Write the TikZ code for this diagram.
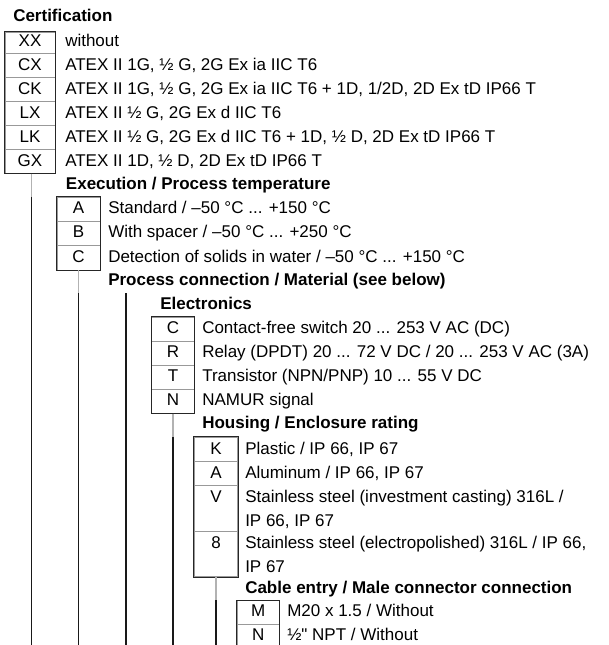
\documentclass[tikz,border=0pt]{standalone}
\usepackage{fontspec}
\setmainfont{Liberation Sans}[Ligatures=TeXOff]
\newcommand\cellrow[7]{%
  \pgfmathsetlengthmacro\cellht{(#5-#4)*0.75pt}%
  \pgfmathsetlengthmacro\celldp{(#6-#5)*0.75pt}%
  \node[cell, minimum width=#3*0.75pt, text height=\cellht, text depth=\celldp, anchor=base] (#1) at (#2,#5) {#7};}
\tikzset{
  every node/.style={font=\fontsize{12.75pt}{18pt}\selectfont, inner sep=0pt, text=black},
  cell/.style={draw=black!40, line width=0.6pt},
  frame/.style={draw=black!85, line width=0.7pt},
  desc/.style={anchor=base west},
  head/.style={anchor=base west, font=\fontsize{12.75pt}{18pt}\selectfont\bfseries},
  feed/.style={draw=black!30, line width=0.8pt},
  trunk/.style={draw=black!90, line width=1pt},
}
\begin{document}
\begin{tikzpicture}[x=0.75pt,y=-0.75pt]
\useasboundingbox (0,0) rectangle (608,645);
\clip (0,0) rectangle (608,645);
\coordinate (bot) at (0,645);
% Certification
\node[head] (hcert) at (13,21.7) {Certification};
\cellrow{cXX}{30}{50}{32.3}{46.7}{53.3}{XX}
\cellrow{cCX}{30}{50}{53.3}{70.7}{77.3}{CX}
\cellrow{cCK}{30}{50}{77.3}{94.7}{101.3}{CK}
\cellrow{cLX}{30}{50}{101.3}{118.7}{125.3}{LX}
\cellrow{cLK}{30}{50}{125.3}{142.7}{149.3}{LK}
\cellrow{cGX}{30}{50}{149.3}{166.7}{173.3}{GX}
\draw[frame] (cXX.north west) rectangle (cGX.south east);
\node[desc] (dXX) at (65,46.7) {without};
\node[desc] (dCX) at (65,70.7) {ATEX II 1G, ½ G, 2G Ex ia IIC T6};
\node[desc] (dCK) at (65,94.7) {ATEX II 1G, ½ G, 2G Ex ia IIC T6 + 1D, 1/2D, 2D Ex tD IP66 T};
\node[desc] (dLX) at (65,118.7) {ATEX II ½ G, 2G Ex d IIC T6};
\node[desc] (dLK) at (65,142.7) {ATEX II ½ G, 2G Ex d IIC T6 + 1D, ½ D, 2D Ex tD IP66 T};
\node[desc] (dGX) at (65,166.7) {ATEX II 1D, ½ D, 2D Ex tD IP66 T};
% Execution
\node[head] (hexec) at (65.7,189.3) {Execution / Process temperature};
\cellrow{eA}{78.5}{43}{197.3}{214}{221.7}{A}
\cellrow{eB}{78.5}{43}{221.7}{238}{245.7}{B}
\cellrow{eC}{78.5}{43}{245.7}{262}{270}{C}
\draw[frame] (eA.north west) rectangle (eC.south east);
\node[desc] (deA) at (108,214) {Standard / –50 °C ... +150 °C};
\node[desc] (deB) at (108,238) {With spacer / –50 °C ... +250 °C};
\node[desc] (deC) at (108,262) {Detection of solids in water / –50 °C ... +150 °C};
% Process connection
\node[head] (hproc) at (108,285.7) {Process connection / Material (see below)};
\coordinate (pc) at (126,293);
% Electronics
\node[head] (helec) at (160,309.3) {Electronics};
\cellrow{nC}{173}{42.5}{317.3}{333.3}{341.7}{C}
\cellrow{nR}{173}{42.5}{341.7}{357.3}{365.7}{R}
\cellrow{nT}{173}{42.5}{365.7}{381.3}{389.3}{T}
\cellrow{nN}{173}{42.5}{389.3}{405.3}{413.3}{N}
\draw[frame] (nC.north west) rectangle (nN.south east);
\node[desc] (dnC) at (202,333.3) {Contact-free switch 20 ... 253 V AC (DC)};
\node[desc] (dnR) at (202,357.3) {Relay (DPDT) 20 ... 72 V DC / 20 ... 253 V AC (3A)};
\node[desc] (dnT) at (202,381.3) {Transistor (NPN/PNP) 10 ... 55 V DC};
\node[desc] (dnN) at (202,405.3) {NAMUR signal};
% Housing
\node[head] (hhous) at (202,428) {Housing / Enclosure rating};
\cellrow{hK}{216}{43.5}{437.3}{454}{461.7}{K}
\cellrow{hA}{216}{43.5}{461.7}{478}{485.7}{A}
\cellrow{hV}{216}{43.5}{485.7}{502}{531.7}{V}
\cellrow{h8}{216}{43.5}{531.7}{548.3}{576.7}{8}
\draw[frame] (hK.north west) rectangle (h8.south east);
\node[desc] (dhK) at (245,454) {Plastic / IP 66, IP 67};
\node[desc] (dhA) at (245,478) {Aluminum / IP 66, IP 67};
\node[desc] (dhV) at (245,502) {Stainless steel (investment casting) 316L /};
\node[desc] (dhVb) at (245,526) {IP 66, IP 67};
\node[desc] (dh8) at (245,548.3) {Stainless steel (electropolished) 316L / IP 66,};
\node[desc] (dh8b) at (245,572) {IP 67};
% Cable entry
\node[head] (hcab) at (245,593.3) {Cable entry / Male connector connection};
\cellrow{kM}{258.3}{42}{600.7}{616.7}{624}{M}
\cellrow{kN}{258.3}{42}{624}{640.7}{648}{N}
\draw[frame] (kM.north west) rectangle (kN.south east);
\node[desc] (dkM) at (287,616.7) {M20 x 1.5 / Without};
\node[desc] (dkN) at (287,640.7) {½" NPT / Without};
% vertical connectors
\coordinate (l1) at ([xshift=1.2pt]cGX.south);
\draw[feed] (l1) -- (l1 |- eA.north);
\draw[trunk] (l1 |- eA.north) -- (l1 |- bot);
\draw[feed] (eC.south) -- (eC.south |- pc);
\draw[trunk] (eC.south |- pc) -- (eC.south |- bot);
\draw[trunk] (pc) -- (pc |- bot);
\draw[feed] (nN.south) -- (nN.south |- hK.north);
\draw[trunk] (nN.south |- hK.north) -- (nN.south |- bot);
\draw[feed] (h8.south) -- (h8.south |- kM.north);
\draw[trunk] (h8.south |- kM.north) -- (h8.south |- bot);
\end{tikzpicture}
\end{document}
